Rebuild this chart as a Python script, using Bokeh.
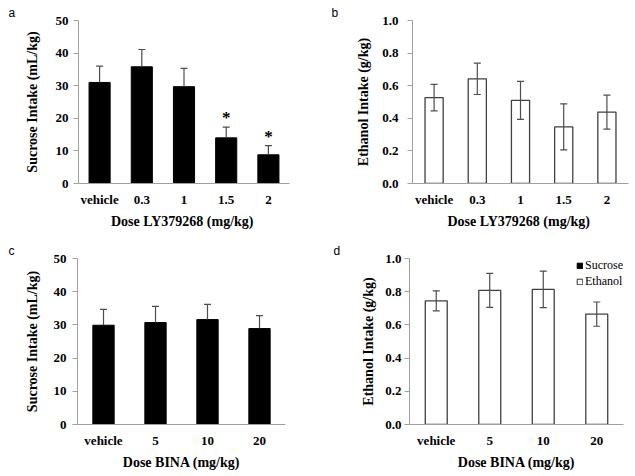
from bokeh.plotting import figure
from bokeh.models import (ColumnDataSource, Whisker, TeeHead, FixedTicker,
                          Legend, LegendItem, Range1d, NumeralTickFormatter)
from bokeh.layouts import column, row
from bokeh.embed import file_html
from bokeh.resources import INLINE
from bokeh.core.properties import value

# ---- data ----
doses_a = ["vehicle", "0.3", "1", "1.5", "2"]
sucrose_a = [31.0, 35.8, 29.7, 14.0, 8.8]
sucrose_a_err = [5.0, 5.3, 5.6, 3.3, 2.8]
sig_a = ["", "", "", "*", "*"]

doses_b = ["vehicle", "0.3", "1", "1.5", "2"]
ethanol_b = [0.527, 0.642, 0.51, 0.347, 0.438]
ethanol_b_err = [0.081, 0.096, 0.117, 0.141, 0.104]

doses_c = ["vehicle", "5", "10", "20"]
sucrose_c = [29.9, 30.7, 31.6, 28.9]
sucrose_c_err = [4.8, 4.9, 4.6, 3.9]

doses_d = ["vehicle", "5", "10", "20"]
ethanol_d = [0.745, 0.808, 0.814, 0.665]
ethanol_d_err = [0.06, 0.102, 0.11, 0.073]

sucrose_ticks = [0, 10, 20, 30, 40, 50]
ethanol_ticks = [0.0, 0.2, 0.4, 0.6, 0.8, 1.0]
legend_labels = ["Sucrose", "Ethanol"]

SERIF = "Liberation Serif"
AXIS_GRAY = "#a0a0a0"


def panel(letter, cats, vals, errs, yticks, ylabel, xlabel, black, w, h,
          borders, bw, tick_standoff, label_standoff, letter_x, sig=None,
          fmt=None, legend=False):
    l, r, t, b = borders
    x = list(range(len(cats)))
    p = figure(width=w, height=h, x_range=Range1d(-0.5, len(cats) - 0.5),
               y_range=Range1d(yticks[0], yticks[-1]),
               output_backend="svg", toolbar_location=None,
               min_border_left=l, min_border_right=r,
               min_border_top=t, min_border_bottom=b)
    p.outline_line_color = None
    p.xgrid.visible = False
    p.ygrid.visible = False

    # panel letter as a left-shifted title
    p.title.text = letter
    p.title.align = "left"
    p.title.offset = letter_x - l
    p.title.standoff = 2
    p.title.text_font = "Liberation Sans"
    p.title.text_font_style = "normal"
    p.title.text_font_size = "12px"
    p.title.text_color = "black"

    upper = [v + e for v, e in zip(vals, errs)]
    lower = [v if black else v - e for v, e in zip(vals, errs)]
    src = ColumnDataSource(dict(x=x, val=vals, upper=upper, lower=lower,
                                sig=sig if sig else [""] * len(x)))

    if black:
        p.vbar(x="x", top="val", width=bw, bottom=0, source=src,
               fill_color="black", line_color="black", line_width=1)
    else:
        p.vbar(x="x", top="val", width=bw, bottom=0, source=src,
               fill_color="white", line_color="#404040", line_width=1.3)

    wc = "#4d4d4d"
    wh = Whisker(source=src, base="x", upper="upper", lower="lower",
                 line_color=wc, line_width=1.2, level="overlay",
                 upper_head=TeeHead(size=7, line_color=wc, line_width=1.2),
                 lower_head=None if black else TeeHead(size=7, line_color=wc, line_width=1.2))
    p.add_layout(wh)

    if sig:
        p.text(x="x", y="upper", text="sig", source=src, text_align="center",
               text_baseline="bottom", text_font=value(SERIF),
               text_font_style="bold", text_font_size="17px", text_color="black")

    # x axis
    xa = p.xaxis[0]
    xa.ticker = FixedTicker(ticks=x)
    xa.major_label_overrides = {i: c for i, c in zip(x, cats)}
    xa.major_tick_line_color = None
    xa.major_tick_out = 0
    xa.major_tick_in = 0
    xa.minor_tick_line_color = None
    xa.axis_line_color = AXIS_GRAY
    xa.major_label_standoff = 8
    xa.axis_label = xlabel
    xa.axis_label_standoff = 4

    ya = p.yaxis[0]
    ya.ticker = FixedTicker(ticks=yticks)
    if fmt:
        ya.formatter = NumeralTickFormatter(format=fmt)
    ya.minor_tick_line_color = None
    ya.major_tick_in = 0
    ya.major_tick_out = 5
    ya.major_tick_line_color = AXIS_GRAY
    ya.axis_line_color = AXIS_GRAY
    ya.major_label_standoff = tick_standoff
    ya.axis_label = ylabel
    ya.axis_label_standoff = label_standoff

    for ax in (xa, ya):
        ax.major_label_text_font = SERIF
        ax.major_label_text_font_style = "bold"
        ax.major_label_text_font_size = "13px"
        ax.major_label_text_color = "black"
        ax.axis_label_text_font = SERIF
        ax.axis_label_text_font_style = "bold"
        ax.axis_label_text_font_size = "14px"
        ax.axis_label_text_color = "black"

    if legend:
        nan = float("nan")
        ghost = ColumnDataSource(dict(x=[nan], top=[nan]))
        r1 = p.vbar(x="x", top="top", width=0.1, source=ghost,
                    fill_color="black", line_color="black")
        r2 = p.vbar(x="x", top="top", width=0.1, source=ghost,
                    fill_color="white", line_color="#303030")
        lg = Legend(items=[LegendItem(label=legend_labels[0], renderers=[r1]),
                           LegendItem(label=legend_labels[1], renderers=[r2])],
                    location="top_right", glyph_width=7, glyph_height=7,
                    label_text_font=SERIF, label_text_font_size="12px",
                    label_text_color="black",
                    label_standoff=2, spacing=1, padding=0, margin=0,
                    label_height=13, border_line_color=None,
                    background_fill_alpha=0)
        p.add_layout(lg)
    return p


pa = panel("a", doses_a, sucrose_a, sucrose_a_err, sucrose_ticks,
           "Sucrose Intake (mL/kg)", "Dose LY379268  (mg/kg)", True,
           318, 238, (78, 29, 20, 55), 0.5, 5, 13, 8, sig=sig_a)
pb = panel("b", doses_b, ethanol_b, ethanol_b_err, ethanol_ticks,
           "Ethanol Intake (g/kg)", "Dose LY379268  (mg/kg)", False,
           316, 238, (94, 6, 19, 55), 0.42, 9, 8, 13, fmt="0.0")
pc = panel("c", doses_c, sucrose_c, sucrose_c_err, sucrose_ticks,
           "Sucrose Intake (mL/kg)", "Dose BINA (mg/kg)", True,
           318, 237, (77, 33, 20, 50), 0.41, 6, 11, 8)
pd_ = panel("d", doses_d, ethanol_d, ethanol_d_err, ethanol_ticks,
            "Ethanol Intake (g/kg)", "Dose BINA (mg/kg)", False,
            316, 237, (91, 11, 18, 51), 0.41, 3, 6, 15, fmt="0.0",
            legend=True)

layout = column(row(pa, pb), row(pc, pd_))
open("out.html", "w").write(file_html(layout, INLINE))
